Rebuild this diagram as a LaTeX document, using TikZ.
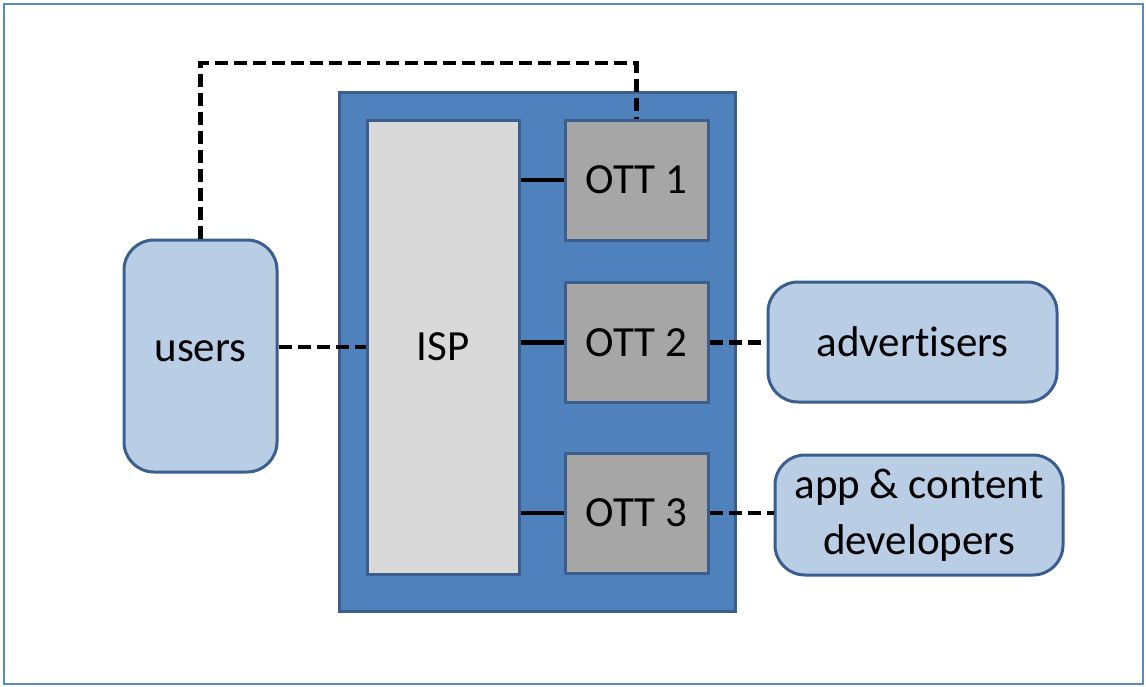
\documentclass[tikz,border=0pt]{standalone}
\usepackage{fontspec}
\setmainfont{Carlito}[Ligatures=NoCommon]
\definecolor{frameblue}{HTML}{5B88BF}
\definecolor{midblue}{HTML}{4F81BD}
\definecolor{edgeblue}{HTML}{3A5F8F}
\definecolor{lightblue}{HTML}{B9CDE5}
\definecolor{ispgray}{HTML}{D9D9D9}
\definecolor{ottgray}{HTML}{A6A6A6}
\tikzset{
  box/.style={draw=edgeblue, line width=3pt, inner sep=0pt, align=center,
    font=\fontsize{43}{56}\selectfont},
  ottbox/.style={box, fill=ottgray, minimum width=143pt, minimum height=120pt},
  roundbox/.style={box, fill=lightblue, rounded corners=30pt},
  dashlink/.style={line width=4.5pt, dash pattern=on 13pt off 6pt},
  solidlink/.style={line width=4.5pt},
}
\begin{document}
\begin{tikzpicture}[x=1pt,y=-1pt]
\useasboundingbox (0,0) rectangle (1146,686);
\draw[frameblue, line width=2.5pt] (4,4) rectangle (1143,684);
\node[box, fill=midblue, minimum width=396pt, minimum height=519pt] (plat) at (537,351.5) {};
\node[box, fill=ispgray, minimum width=152pt, minimum height=454pt] (isp) at (443,347) {ISP};
\node[ottbox] (ott1) at (636.5,180) {OTT 1};
\node[ottbox] (ott2) at (636.5,342.5) {OTT 2};
\node[ottbox] (ott3) at (636.5,513) {OTT 3};
\node[roundbox, minimum width=153pt, minimum height=232pt, text depth=9pt] (users) at (200.5,356) {users};
\node[roundbox, minimum width=289pt, minimum height=120pt] (adv) at (912.5,342) {advertisers};
\node[roundbox, minimum width=288pt, minimum height=120pt] (dev) at (919,515) {app \& content\\developers};
\coordinate (topy) at (0,63);
\draw[dashlink] (users.north) -- (users.north |- topy) -| (ott1.north);
\draw[dashlink] (users.east |- isp.west) -- (isp.west);
\draw[solidlink] (isp.east |- ott1.west) -- (ott1.west);
\draw[solidlink] (isp.east |- ott2.west) -- (ott2.west);
\draw[solidlink] (isp.east |- ott3.west) -- (ott3.west);
\draw[dashlink] (ott2.east) -- (adv.west |- ott2.east);
\draw[dashlink] (ott3.east) -- (dev.west |- ott3.east);
\end{tikzpicture}
\end{document}
